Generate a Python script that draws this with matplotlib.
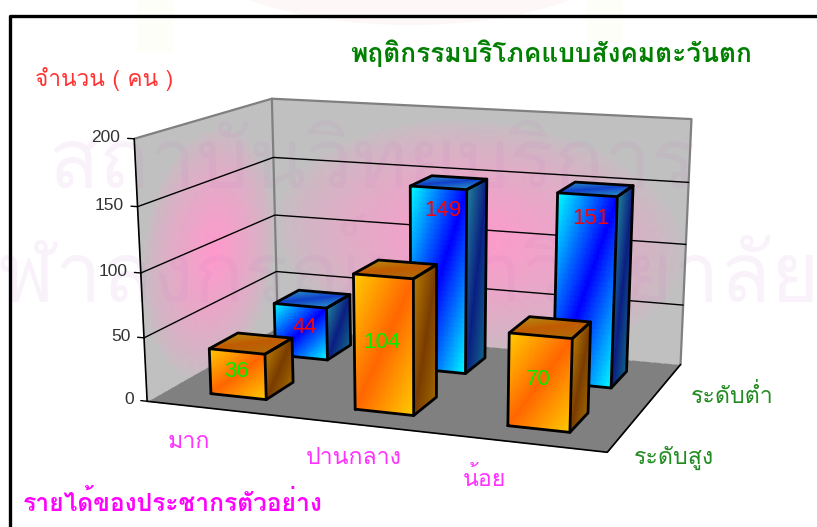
import matplotlib
matplotlib.use('Agg')
import matplotlib.pyplot as plt
from matplotlib.colors import to_rgb
from matplotlib.lines import Line2D
from matplotlib.patches import Ellipse, Rectangle
from mpl_toolkits.mplot3d.art3d import Line3DCollection
import numpy as np

W, H = 817, 527
THAI = ['Loma', 'Noto Sans Thai Looped', 'DejaVu Sans']

# data
categories = ['มาก', 'ปานกลาง', 'น้อย']
series = ['ระดับสูง', 'ระดับต่ำ']
high_values = [36, 104, 70]
low_values = [44, 149, 151]
z_ticks = [0, 50, 100, 150, 200]

# camera calibration: axis corners (x, y, z) -> picture pixel
calib_world = [(0, 0, 0), (0, 0, 50), (0, 0, 100), (0, 0, 150), (0, 0, 200),
               (0, 2, 0), (0, 2, 50), (0, 2, 100), (0, 2, 150), (0, 2, 200),
               (3, 2, 0), (3, 2, 50), (3, 2, 100), (3, 2, 150), (3, 2, 200),
               (3, 0, 0)]
calib_pixel = [(147, 401), (144, 337), (141, 272), (137, 207), (135, 139),
               (278, 328), (277, 272), (274, 216), (273, 157), (272, 98),
               (681, 362), (683, 305), (686, 245), (688, 183), (692, 119),
               (607, 454)]

rows = []
rhs = []
for (x, y, z), (u, v) in zip(calib_world, calib_pixel):
    v = H - v
    rows.append([x, y, z, 1, 0, 0, 0, 0, -u * x, -u * y, -u * z])
    rows.append([0, 0, 0, 0, x, y, z, 1, -v * x, -v * y, -v * z])
    rhs += [u, v]
p = np.linalg.lstsq(np.array(rows, float), np.array(rhs, float), rcond=None)[0]
P = np.append(p, 1).reshape(3, 4)


def px(x, y):
    return x / W, 1 - y / H


fig = plt.figure(figsize=(W / 100, H / 100), dpi=100, facecolor='white')
# square 3d axes that covers the whole figure
ax = fig.add_axes([0, -(W - H) / 2 / H, 1, W / H], projection='3d', computed_zorder=False)
ax.set_axis_off()
ax.patch.set_visible(False)
ax.set_xlim(0, 3)
ax.set_ylim(0, 2)
ax.set_zlim(0, 200)


def calibrated_proj():
    inv = np.linalg.inv(ax.transData.get_affine().get_matrix())
    top = inv @ P
    return np.vstack([top[0], top[1], [0, 1, 0, 0], top[2]])


ax.get_proj = calibrated_proj


def blend(t, stops):
    stops = np.array([to_rgb(c) for c in stops])
    pos = np.linspace(0, 1, len(stops))
    return np.dstack([np.interp(t, pos, stops[:, i]) for i in range(3)])


def face(c0, c1, c2, colors, zorder, n=36):
    # c0 = top left, c1 = top right, c2 = bottom left of the face
    c0, c1, c2 = [np.array(c, float) for c in (c0, c1, c2)]
    u, v = np.meshgrid(np.linspace(0, 1, n + 1), np.linspace(0, 1, n + 1))
    pts = [c0[i] + u * (c1[i] - c0[i]) + v * (c2[i] - c0[i]) for i in range(3)]
    uc, vc = np.meshgrid((np.arange(n) + .5) / n, (np.arange(n) + .5) / n)
    rgb = colors(uc, vc)
    ax.plot_surface(*pts, facecolors=rgb, rstride=1, cstride=1, shade=False,
                    linewidth=0, antialiased=False, zorder=zorder)


def diagonal(stops):
    return lambda u, v: blend((u + v) / 2, stops)


def wall_colors(u, v):
    d = np.sqrt((u - .5) ** 2 + (v - .55) ** 2) / .5
    return blend(np.clip(1 - d, 0, 1) ** .7, ['#C0C0C0', '#FF99CC'])


def line3(xs, ys, zs, color='black', lw=1.0, zorder=3):
    seg = [list(zip(xs, ys, zs))]
    ax.add_collection3d(Line3DCollection(seg, colors=color, linewidths=lw, zorder=zorder,
                                         capstyle='round', joinstyle='round'))


# walls and floor
face((0, 0, 200), (0, 2, 200), (0, 0, 0), wall_colors, 1, n=50)
face((0, 2, 200), (3, 2, 200), (0, 2, 0), wall_colors, 1, n=70)
face((0, 2, 0), (3, 2, 0), (0, 0, 0), lambda u, v: blend(u * 0, ['#808080', '#808080']), 2, n=1)

# watermark sits over the walls, under the bars
wm = dict(transform=fig.transFigure, family=THAI, color='#C878C8', alpha=.09, zorder=1.5,
          ha='center', va='baseline', fontsize=60)
ax.text2D(*px(372, 188), 'สถาบันวิทยบริการ', **wm)
ax.text2D(*px(384, 302), 'จุฬาลงกรณ์มหาวิทยาลัย', **wm)

# grid and wall edges
for z in z_ticks[1:-1]:
    line3([0, 0, 3], [0, 2, 2], [z, z, z], lw=1.0, zorder=2.5)
line3([0, 0, 3, 3], [0, 2, 2, 2], [200, 200, 200, 0], color='#808080', lw=1.6, zorder=2.4)
line3([0, 0], [2, 2], [0, 200], color='#808080', lw=1.6, zorder=2.4)
line3([0, 3, 3], [0, 0, 2], [0, 0, 0], lw=1.2, zorder=2.6)
line3([0, 0], [0, 0], [0, 200], lw=1.2, zorder=2.6)
for z in z_ticks:
    line3([-.045, 0], [0, 0], [z, z], lw=1.0, zorder=2.6)
    ax.text(-.095, 0, z, str(z), family='Liberation Sans', fontsize=12.5, color='#333333',
            ha='right', va='center', zorder=9)

ORANGE = ['#FFCC00', '#FF6600', '#FFCC00']
ORANGE_SIDE = ['#B47800', '#7A3C00', '#A06800']
ORANGE_TOP = ['#B48A10', '#C05A00', '#B06C08']
BLUE = ['#00FFFF', '#0000FF', '#00FFFF']
BLUE_SIDE = ['#208098', '#0A1E82', '#106888']
BLUE_TOP = ['#2A90C8', '#1040C8', '#2A90C8']

half_w = .195
half_d = .21
order = [(1, low_values, BLUE, BLUE_SIDE, BLUE_TOP, 5),
         (0, high_values, ORANGE, ORANGE_SIDE, ORANGE_TOP, 7)]
for row, values, c_front, c_side, c_top, zo in order:
    for i, val in enumerate(values):
        x0, x1 = i + .5 - half_w, i + .5 + half_w
        y0, y1 = row + .5 - half_d, row + .5 + half_d
        zo_i = zo + i * .1
        face((x0, y0, val), (x1, y0, val), (x0, y0, 0), diagonal(c_front), zo_i)
        face((x1, y0, val), (x1, y1, val), (x1, y0, 0), diagonal(c_side), zo_i)
        face((x0, y1, val), (x1, y1, val), (x0, y0, val), diagonal(c_top), zo_i)
        k = dict(lw=2.0, zorder=zo_i + .05)
        line3([x0, x1, x1, x0, x0], [y0, y0, y0, y0, y0], [0, 0, val, val, 0], **k)
        line3([x1, x1, x1, x1], [y0, y1, y1, y0], [0, 0, val, val], **k)
        line3([x0, x0, x1, x1], [y0, y1, y1, y0], [val, val, val, val], **k)
        # back row labels sit near the top, front row labels mid face
        lz = val - 18 if row == 1 else val / 2 + 2
        lx = i + .53 if row == 1 else i + .49
        ax.text(lx, y0, lz, str(val), family='Liberation Sans', fontsize=16,
                color='#FF0000' if row == 1 else '#00EE00', ha='center', va='center', zorder=9)

# free text boxes
fig.text(*px(551, 53), 'พฤติกรรมบริโภคแบบสังคมตะวันตก', family=THAI, fontsize=18.9, weight='bold',
         color='#007F00', ha='center', va='center')
fig.text(*px(104, 79), 'จำนวน ( คน )', family=THAI, fontsize=16.3, color='#FF3333', ha='center', va='center')
fig.text(*px(173, 503), 'รายได้ของประชากรตัวอย่าง', family=THAI, fontsize=17.7, weight='bold',
         color='#FF00FF', ha='center', va='center')
for name, (lx, ly) in zip(categories, [(189, 443), (354, 459), (484, 479)]):
    fig.text(*px(lx, ly), name, family=THAI, fontsize=16.7, color='#FF33FF', ha='center', va='center')
for name, (lx, ly) in zip(series, [(674, 458), (732, 396)]):
    fig.text(*px(lx, ly), name, family=THAI, fontsize=16.7, color='#228B22', ha='center', va='center')

# faint seal behind everything, slide frame on top
fig.add_artist(Ellipse(px(410, -50), 430 / W, 150 / H, fc='#FDF7F7', ec='none', zorder=-2))
fig.add_artist(Rectangle(px(137, 52), 36 / W, 52 / H, fc='#FEFEF9', ec='none', zorder=-2))
fig.add_artist(Rectangle(px(587, 42), 36 / W, 42 / H, fc='#FEFEF9', ec='none', zorder=-2))
fx, fy = zip(px(9.5, 540), px(9.5, 16), px(830, 16))
fig.add_artist(Line2D(fx, fy, color='black', lw=2.4, zorder=20))

fig.savefig('out.png', dpi=100)
